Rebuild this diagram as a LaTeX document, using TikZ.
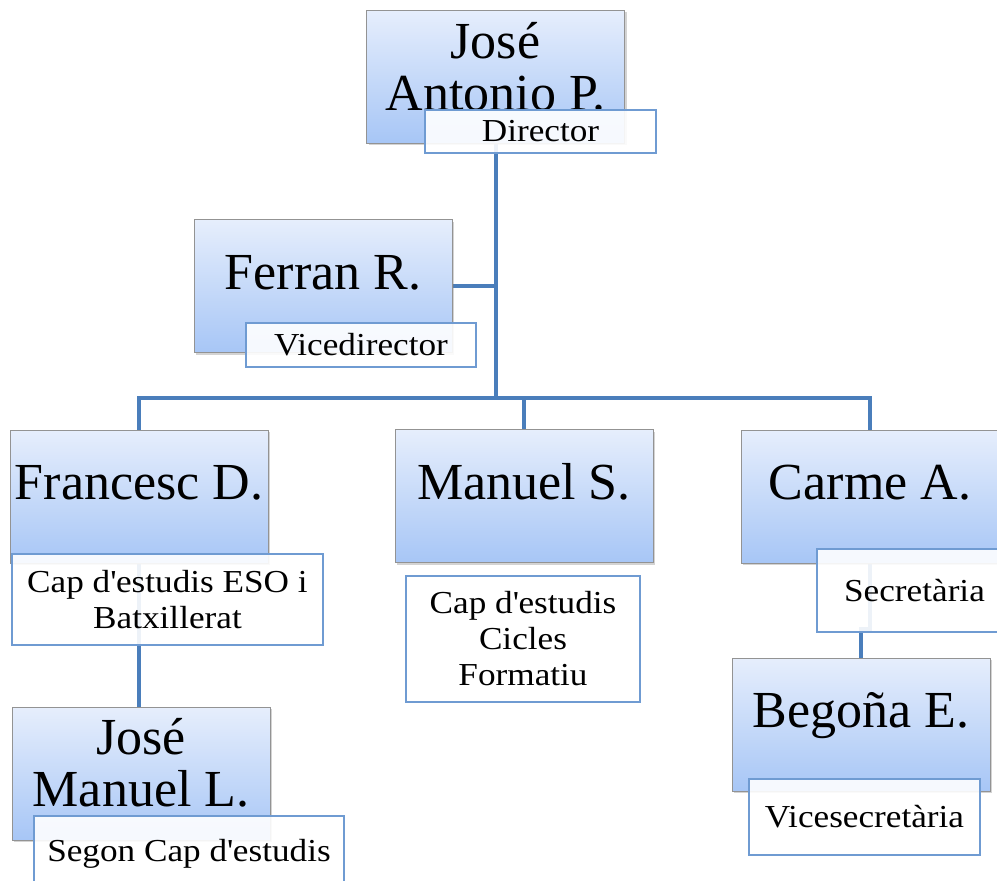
\documentclass[tikz,border=0pt]{standalone}
\usepackage{fontspec}
\setmainfont{Liberation Serif}
\newfontfamily\rolefont[FakeStretch=1.1]{Liberation Serif}
\usetikzlibrary{positioning,shadows,backgrounds}

\definecolor{linkblue}{HTML}{4A7EBB}
\definecolor{boxtop}{HTML}{E6EEFC}
\definecolor{boxbot}{HTML}{A7C6F6}
\definecolor{rolebd}{HTML}{6F9BD2}
\newcommand{\ap}{\textquotesingle}

\begin{document}
\begin{tikzpicture}[x = 1pt, y = -1pt,
    person/.style = { draw = gray!85, line width = 1pt, top color = boxtop, bottom color = boxbot,
                      minimum width = 258pt, minimum height = 133pt, inner sep = 0pt, align = center,
                      font = \fontsize{52}{52}\selectfont,
                      drop shadow={shadow xshift=2pt,shadow yshift=-2pt,opacity=.35} },
    one/.style    = { text height = .9em, text depth = .25em },
    role/.style   = { draw = rolebd, line width = 1.2pt, fill = white, fill opacity = .9, text opacity = 1,
                      inner sep = 0pt, align = center, font = \rolefont\fontsize{32}{36}\selectfont },
    link/.style   = { draw = linkblue, line width = 4pt }]
    \useasboundingbox (0,0) rectangle (997,881);

    \node [person, text depth = 20pt] (jap) at (495.5,76.5) {José\\Antonio P.};
    \node [role, minimum width = 231pt, minimum height = 43pt] (dir) at (540.5,131.5) {Director};

    \node [person, one] (fer) at (323,286) {Ferran R.};
    \node [role, minimum width = 230pt, minimum height = 44pt] (vic) at (361,345) {Vicedirector};

    \node [person, one] (fra) at (139,496.5) {Francesc D.};
    \node [role, minimum width = 311pt, minimum height = 91pt] (eso) at (167.5,599.5) {Cap d\ap estudis ESO i\\Batxillerat};

    \node [person, one] (man) at (524,496) {Manuel S.};
    \node [role, minimum width = 234pt, minimum height = 126pt] (cfo) at (523,639) {Cap d\ap estudis\\Cicles\\Formatiu};

    \node [person, one] (car) at (870,496.5) {Carme A.};
    \node [role, minimum width = 195pt, minimum height = 83pt] (sec) at (914.5,590.5) {Secretària};

    \node [person, one] (beg) at (861,724.5) {Begoña E.};
    \node [role, minimum width = 231pt, minimum height = 76pt] (vse) at (864.5,817) {Vicesecretària};

    \node [person, text depth = 22pt] (jml) at (141,773.5) {José\\Manuel L.};
    \node [role, minimum width = 310pt, minimum height = 76pt] (seg) at (189,854) {Segon Cap d\ap estudis};

    \begin{scope}[on background layer]
      \coordinate (bar) at (0,398);
      \draw [link] (jap.south) -- (jap.south |- bar);
      \draw [link] (fer.east) -- (fer.east -| jap.south);
      \draw [link] (fra.north) |- (bar -| car.north) -- (car.north);
      \draw [link] (man.north) -- (man.north |- bar);
      \draw [link] (fra.south) -- (fra.south |- jml.north);
      \draw [link] (car.south) -- ++(0,65) -| (beg.north);
    \end{scope}
\end{tikzpicture}
\end{document}
